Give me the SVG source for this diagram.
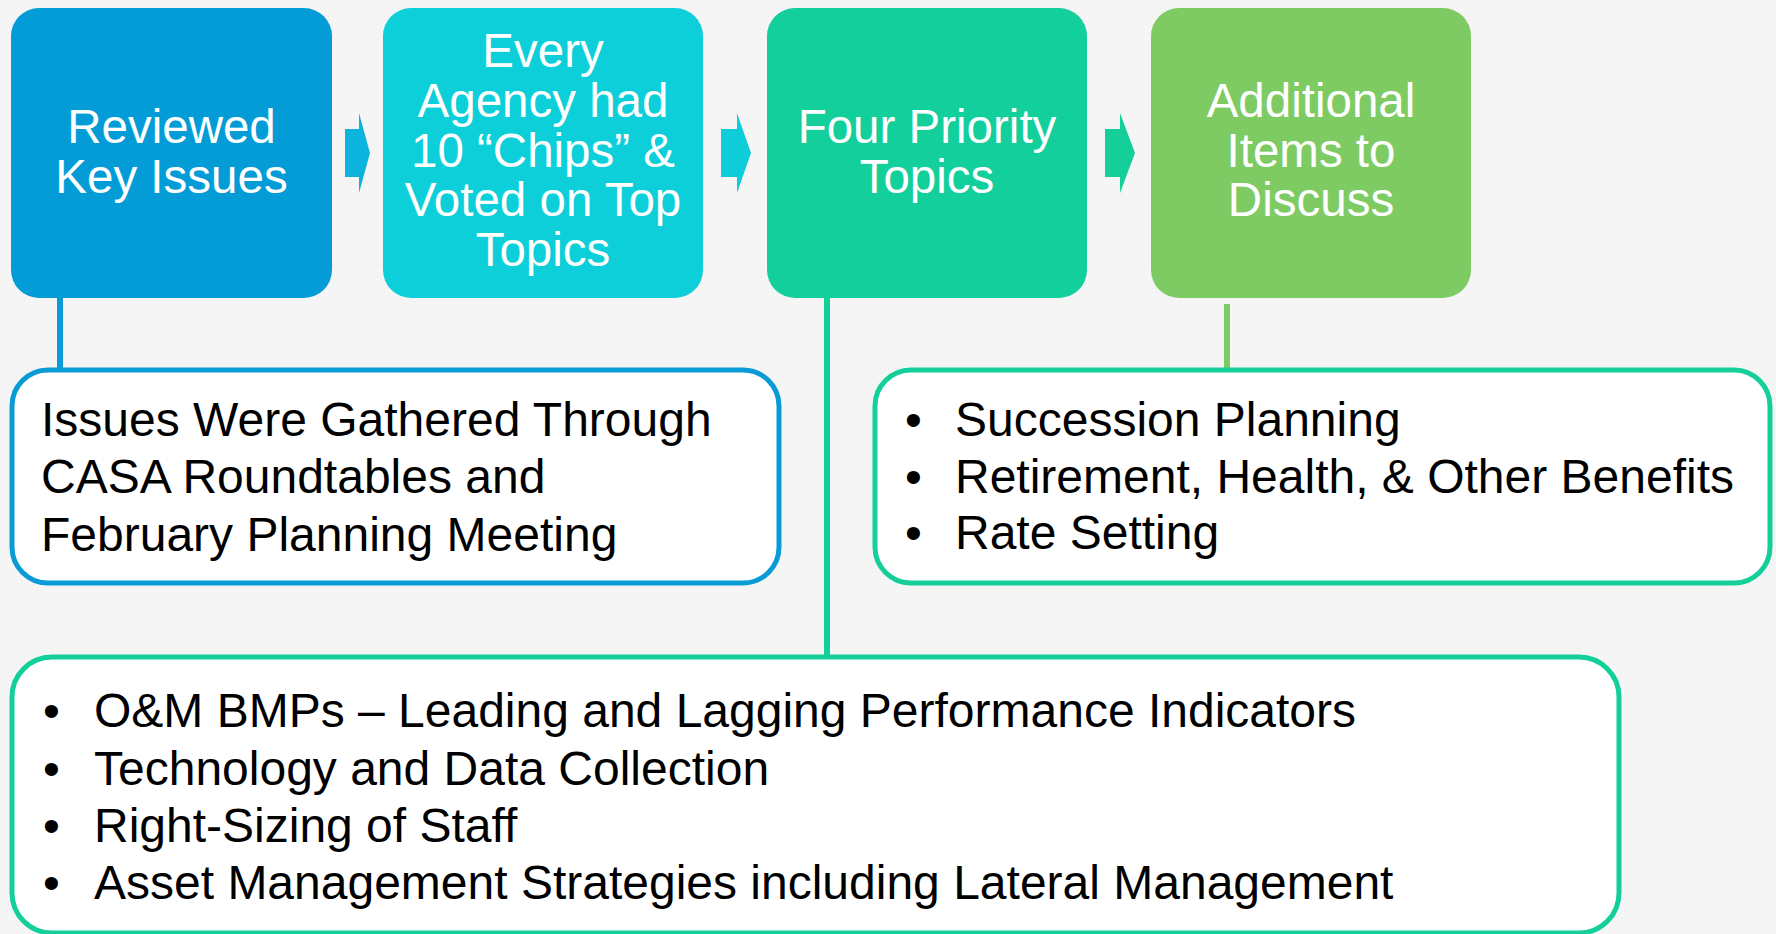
<svg xmlns="http://www.w3.org/2000/svg" width="1776" height="934" viewBox="0 0 1776 934">
<defs>
<pattern id="bg" width="4" height="4" patternUnits="userSpaceOnUse">
<rect width="4" height="4" fill="#f6f6f6"/>
<rect width="1" height="1" fill="#ececec"/>
<rect x="2" y="2" width="1" height="1" fill="#efefef"/>
</pattern>
</defs>
<style>
.box{stroke:none}
.wt{font-family:"Liberation Sans",Arial,sans-serif;font-size:47.5px;fill:#ffffff;text-anchor:middle}
.bt{font-family:"Liberation Sans",Arial,sans-serif;font-size:48px;fill:#000000}
.call{fill:#ffffff;stroke-width:5}
.conn{fill:none;stroke-width:6}
</style>
<rect width="1776" height="934" fill="url(#bg)"/>

<g id="connectors">
<line class="conn" x1="60" y1="296" x2="60" y2="369" stroke="#0a9ad6"/>
<line class="conn" x1="827" y1="296" x2="827" y2="657" stroke="#14cf9a"/>
<line class="conn" x1="1227" y1="304" x2="1227" y2="369" stroke="#7ecb63"/>
<polygon points="345,129 359,129 359,113 370,153 359,193 359,177 345,177" fill="#0cb3dc"/>
<polygon points="721,129 737,129 737,113 751,153 737,193 737,177 721,177" fill="#0dcdd9"/>
<polygon points="1105,129 1120,129 1120,113 1135,153 1120,193 1120,177 1105,177" fill="#14cf9a"/>
</g>

<g id="node-reviewed">
<rect class="box" x="11" y="8" width="321" height="290" rx="28" fill="#039cd7"/>
<text class="wt" x="171.5" y="143">Reviewed</text>
<text class="wt" x="171.5" y="193">Key Issues</text>
</g>

<g id="node-every-agency">
<rect class="box" x="383" y="8" width="320" height="290" rx="28" fill="#0dcfd9"/>
<text class="wt" x="543" y="67">Every</text>
<text class="wt" x="543" y="117">Agency had</text>
<text class="wt" x="543" y="167">10 “Chips” &amp;</text>
<text class="wt" x="543" y="216">Voted on Top</text>
<text class="wt" x="543" y="266">Topics</text>
</g>

<g id="node-four-priority">
<rect class="box" x="767" y="8" width="320" height="290" rx="28" fill="#13cf9b"/>
<text class="wt" x="927" y="143">Four Priority</text>
<text class="wt" x="927" y="193">Topics</text>
</g>

<g id="node-additional">
<rect class="box" x="1151" y="8" width="320" height="290" rx="28" fill="#7ecb64"/>
<text class="wt" x="1311" y="117">Additional</text>
<text class="wt" x="1311" y="167">Items to</text>
<text class="wt" x="1311" y="216">Discuss</text>
</g>

<g id="node-issues-gathered">
<rect class="call" x="12" y="370" width="767" height="213" rx="36" stroke="#0a9ad6"/>
<text class="bt" x="41" y="436">Issues Were Gathered Through</text>
<text class="bt" x="41" y="493">CASA Roundtables and</text>
<text class="bt" x="41" y="551">February Planning Meeting</text>
</g>

<g id="node-additional-items">
<rect class="call" x="875" y="370" width="895" height="213" rx="36" stroke="#14cf9a"/>
<text class="bt" x="905" y="436">•</text>
<text class="bt" x="955" y="436">Succession Planning</text>
<text class="bt" x="905" y="493">•</text>
<text class="bt" x="955" y="493">Retirement, Health, &amp; Other Benefits</text>
<text class="bt" x="905" y="549">•</text>
<text class="bt" x="955" y="549">Rate Setting</text>
</g>

<g id="node-priority-topics">
<rect class="call" x="12" y="657" width="1607" height="276" rx="40" stroke="#14cf9a"/>
<text class="bt" x="43" y="727">•</text>
<text class="bt" x="94" y="727">O&amp;M BMPs – Leading and Lagging Performance Indicators</text>
<text class="bt" x="43" y="785">•</text>
<text class="bt" x="94" y="785">Technology and Data Collection</text>
<text class="bt" x="43" y="842">•</text>
<text class="bt" x="94" y="842">Right-Sizing of Staff</text>
<text class="bt" x="43" y="899">•</text>
<text class="bt" x="94" y="899">Asset Management Strategies including Lateral Management</text>
</g>
</svg>
